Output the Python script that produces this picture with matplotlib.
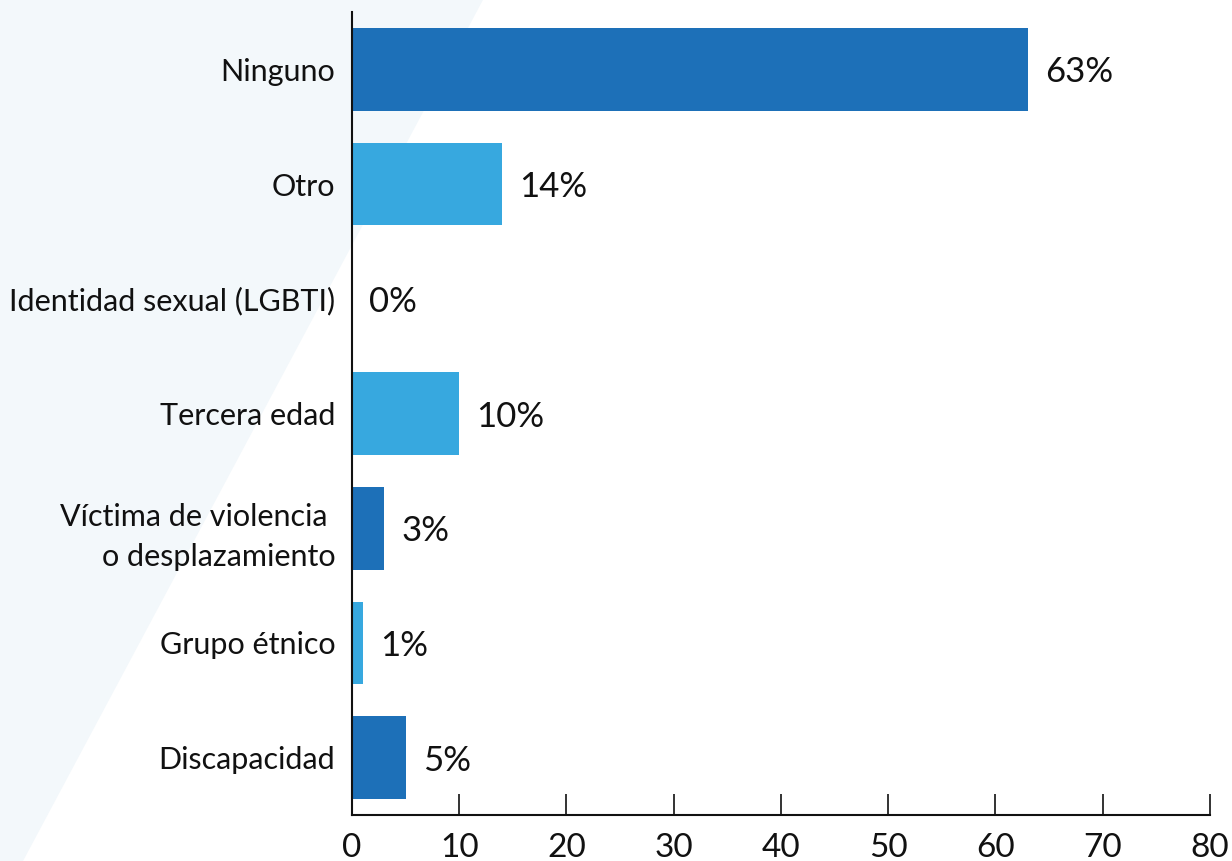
import matplotlib
matplotlib.use("Agg")
import matplotlib.pyplot as plt
from matplotlib.patches import Polygon

categories = [
    "Ninguno",
    "Otro",
    "Identidad sexual (LGBTI)",
    "Tercera edad",
    "Víctima de violencia \no desplazamiento",
    "Grupo étnico",
    "Discapacidad",
]
values = [63, 14, 0, 10, 3, 1, 5]
value_labels = ["63%", "14%", "0%", "10%", "3%", "1%", "5%"]
x_ticks = [0, 10, 20, 30, 40, 50, 60, 70, 80]

DARK = "#1d70b8"
LIGHT = "#37a8df"
colors = [DARK, LIGHT, DARK, LIGHT, DARK, LIGHT, DARK]

plt.rcParams["font.family"] = ["Lato", "DejaVu Sans"]

fig = plt.figure(figsize=(12.32, 8.61), dpi=100)
fig.patch.set_facecolor("white")

# pale diagonal band in the background
band = Polygon([(0, 0), (0, 1), (0.392, 1), (0.0187, 0)], closed=True,
               transform=fig.transFigure, facecolor="#f3f8fb",
               edgecolor="none", zorder=-10)
fig.patches.append(band)

ax = fig.add_axes([0.2857, 0.0534, 0.9821 - 0.2857, 0.986 - 0.0534])
ax.patch.set_alpha(0)

ypos = list(range(len(categories)))
ax.barh(ypos, values, height=0.72, color=colors, zorder=2)

for y, v, lab in zip(ypos, values, value_labels):
    ax.annotate(lab, xy=(v, y), xytext=(17, -3), textcoords="offset pixels",
                ha="left", va="center", fontsize=25, color="#111111")

ax.set_xlim(0, 80)
ax.set_ylim(len(categories) - 0.5, -0.5)
ax.set_xticks(x_ticks)
ax.set_xticklabels([str(t) for t in x_ticks])
ax.set_yticks(ypos)
ax.set_yticklabels(categories, linespacing=1.55)

for side in ("top", "right"):
    ax.spines[side].set_visible(False)
for side in ("left", "bottom"):
    ax.spines[side].set_linewidth(1.5)
    ax.spines[side].set_color("#111111")

ax.tick_params(axis="x", direction="in", length=15, width=1.2,
               color="#111111", labelsize=24, pad=13, labelcolor="#111111")
ax.tick_params(axis="y", length=0, labelsize=22, pad=12, labelcolor="#111111")

fig.savefig("out.png", dpi=100)
